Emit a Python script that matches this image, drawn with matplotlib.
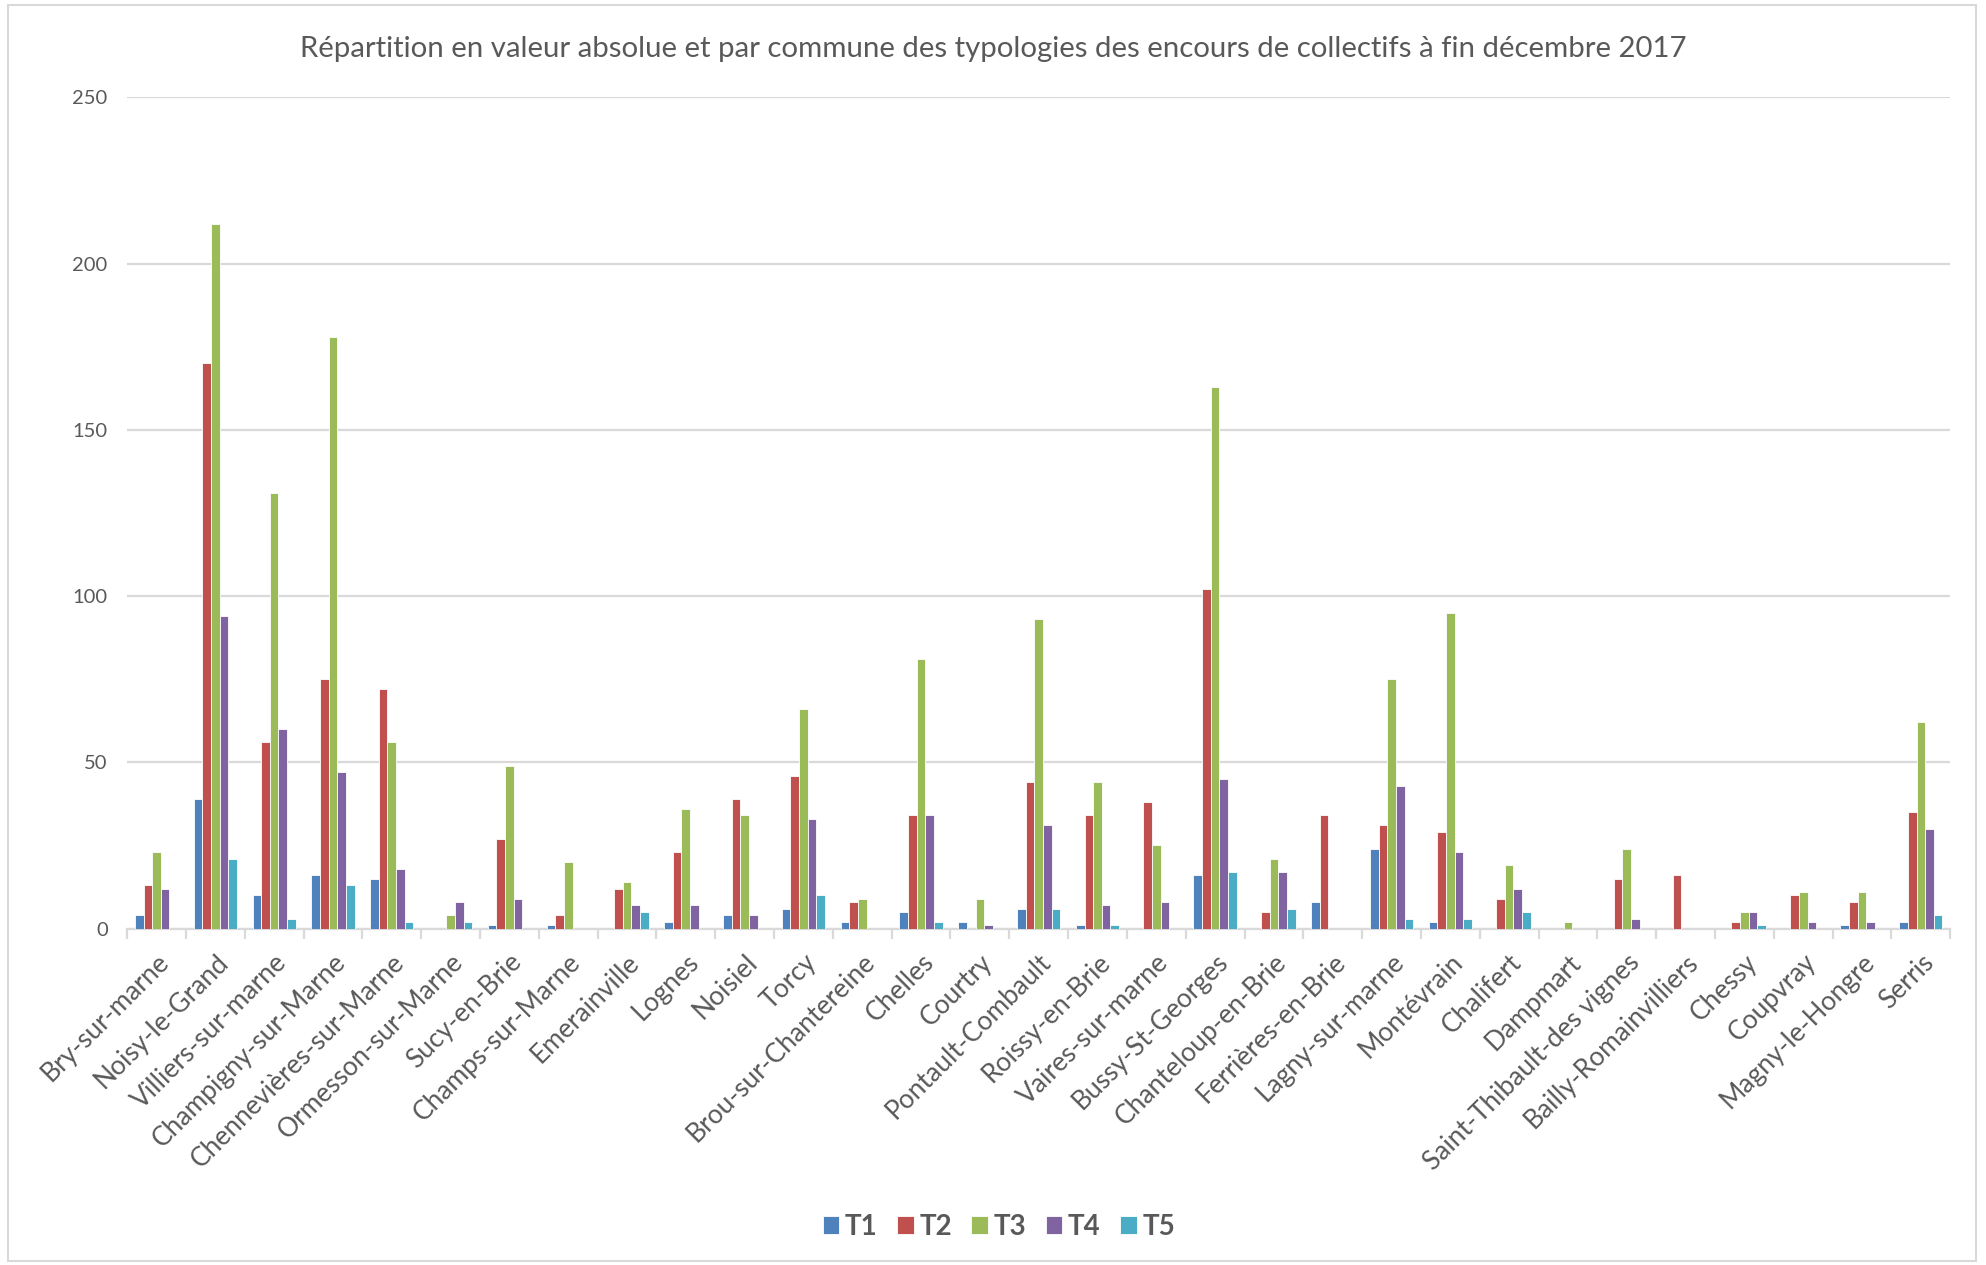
import numpy as np
import matplotlib
matplotlib.use("Agg")
import matplotlib.pyplot as plt
from matplotlib.patches import Rectangle

plt.rcParams['font.family'] = ['Lato', 'DejaVu Sans']

communes = [
    "Bry-sur-marne", "Noisy-le-Grand", "Villiers-sur-marne", "Champigny-sur-Marne",
    "Chennevières-sur-Marne", "Ormesson-sur-Marne", "Sucy-en-Brie", "Champs-sur-Marne",
    "Emerainville", "Lognes", "Noisiel", "Torcy", "Brou-sur-Chantereine", "Chelles",
    "Courtry", "Pontault-Combault", "Roissy-en-Brie", "Vaires-sur-marne",
    "Bussy-St-Georges", "Chanteloup-en-Brie", "Ferrières-en-Brie", "Lagny-sur-marne",
    "Montévrain", "Chalifert", "Dampmart", "Saint-Thibault-des vignes",
    "Bailly-Romainvilliers", "Chessy", "Coupvray", "Magny-le-Hongre", "Serris",
]

T1 = [4, 39, 10, 16, 15, 0, 1, 1, 0, 2, 4, 6, 2, 5, 2, 6, 1, 0, 16, 0, 8, 24, 2, 0, 0, 0, 0, 0, 0, 1, 2]
T2 = [13, 170, 56, 75, 72, 0, 27, 4, 12, 23, 39, 46, 8, 34, 0, 44, 34, 38, 102, 5, 34, 31, 29, 9, 0, 15, 16, 2, 10, 8, 35]
T3 = [23, 212, 131, 178, 56, 4, 49, 20, 14, 36, 34, 66, 9, 81, 9, 93, 44, 25, 163, 21, 0, 75, 95, 19, 2, 24, 0, 5, 11, 11, 62]
T4 = [12, 94, 60, 47, 18, 8, 9, 0, 7, 7, 4, 33, 0, 34, 1, 31, 7, 8, 45, 17, 0, 43, 23, 12, 0, 3, 0, 5, 2, 2, 30]
T5 = [0, 21, 3, 13, 2, 2, 0, 0, 5, 0, 0, 10, 0, 2, 0, 6, 1, 0, 17, 6, 0, 3, 3, 5, 0, 0, 0, 1, 0, 0, 4]

series = [("T1", T1, "#4F81BD"), ("T2", T2, "#C0504D"), ("T3", T3, "#9BBB59"),
          ("T4", T4, "#8064A2"), ("T5", T5, "#4BACC6")]

fig = plt.figure(figsize=(19.86, 12.65), dpi=100)
ax = fig.add_axes([0.064, 0.266, 0.918, 0.657])

x = np.arange(len(communes))
w = 0.147
for i, (name, vals, col) in enumerate(series):
    ax.bar(x + (i - 2) * w, vals, width=w, color=col, edgecolor="white",
           linewidth=0.6, label=name, zorder=3)

ax.set_xlim(-0.5, len(communes) - 0.5)
ax.set_ylim(0, 250)
ax.set_yticks(range(0, 251, 50))
ax.yaxis.grid(True, color="#D9D9D9", linewidth=1.6, zorder=0)
ax.set_axisbelow(True)
for s in ["top", "right", "left"]:
    ax.spines[s].set_visible(False)
ax.spines["bottom"].set_color("#D9D9D9")
ax.spines["bottom"].set_linewidth(1.6)
ax.tick_params(axis="y", length=0, pad=14, labelsize=14.5, labelcolor="#595959")

# libellés centrés, graduations entre les catégories
ax.set_xticks(x)
ax.set_xticklabels(communes, rotation=45, ha="right", rotation_mode="anchor",
                   fontsize=19, color="#595959")
ax.tick_params(axis="x", length=0, pad=15)
ax.set_xticks(np.arange(-0.5, len(communes)), minor=True)
ax.tick_params(axis="x", which="minor", length=7, width=1.6, color="#D9D9D9")

fig.text(0.5, 0.961, "Répartition en valeur absolue et par commune des typologies des encours de collectifs à fin décembre 2017",
         ha="center", va="center", fontsize=21.2, color="#595959")

leg = fig.legend(loc="center", bbox_to_anchor=(0.503, 0.030), ncol=5, frameon=False,
                 handlelength=0.6, handleheight=0.6, handletextpad=0.2, columnspacing=0.7,
                 prop={"weight": "bold", "size": 20})
for t in leg.get_texts():
    t.set_color("#595959")

fig.patches.append(Rectangle((0.004, 0.003), 0.991, 0.993, transform=fig.transFigure,
                             fill=False, edgecolor="#D9D9D9", linewidth=1.5))

fig.savefig("out.png", dpi=100)
